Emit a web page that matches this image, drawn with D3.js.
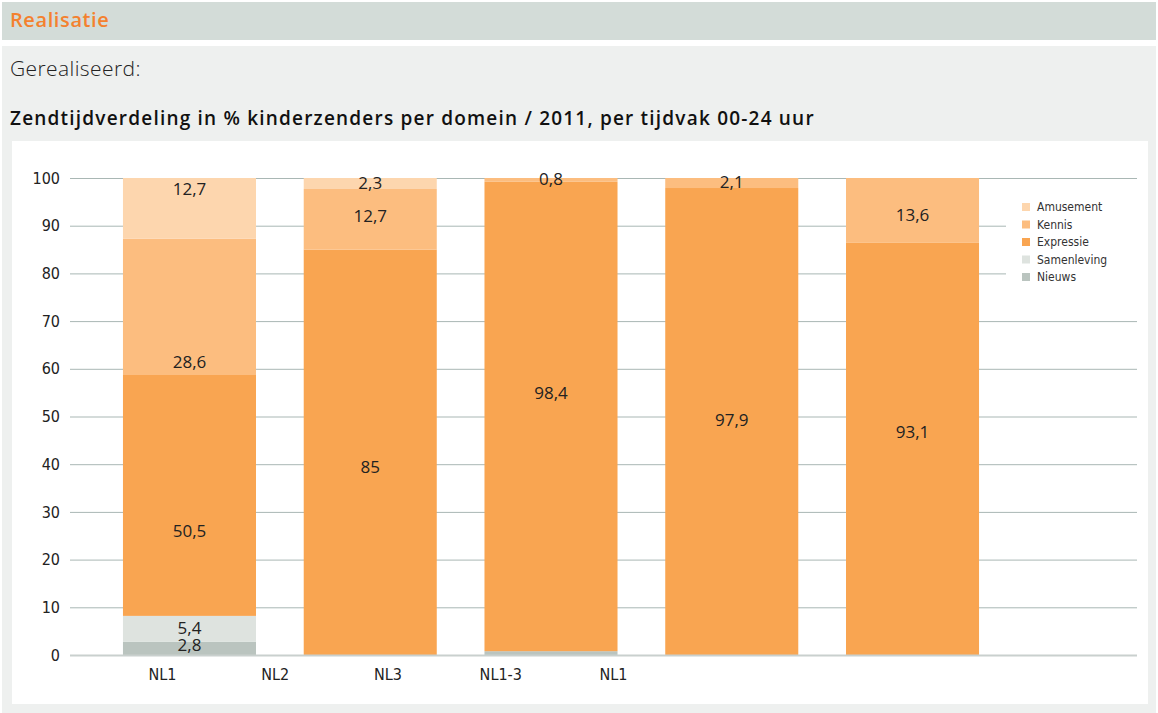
<!DOCTYPE html>
<html lang="nl">
<head>
<meta charset="UTF-8">
<title>Zendtijdverdeling kinderzenders</title>
<style>
  body { margin: 0; background: #fff; }
  svg { display: block; }
  .tick text { font-family: "DejaVu Sans Condensed", "Liberation Sans Narrow", sans-serif; font-size: 16px; fill: #222; }
  .head { font-family: "Open Sans", Lato, sans-serif; }
</style>
</head>
<body>
<div id="chart"></div>
<script src="https://d3js.org/d3.v7.min.js"></script>
<script>
// data
var barIds = ["b1", "b2", "b3", "b4", "b5"];
var xLabels = ["NL1", "NL2", "NL3", "NL1-3", "NL1 "];
var domains = ["Nieuws", "Samenleving", "Expressie", "Kennis", "Amusement"];
var legendOrder = ["Amusement", "Kennis", "Expressie", "Samenleving", "Nieuws"];

var nieuws      = [2.8, 0, 0.8, 0, 0];
var samenleving = [5.4, 0, 0, 0, 0];
var expressie   = [50.5, 85, 98.4, 97.9, 86.4];
var kennis      = [28.6, 12.7, 0.8, 2.1, 13.6];
var amusement   = [12.7, 2.3, 0, 0, 0];

// value labels as printed, with the value where each one sits
var labelBar  = [0, 0, 0, 0, 0, 1, 1, 1, 2, 2, 3, 3, 4, 4];
var labelText = ["12,7", "28,6", "50,5", "5,4", "2,8", "2,3", "12,7", "85", "0,8", "98,4", "2,1", "97,9", "13,6", "93,1"];
var labelAt   = [97.8, 61.4, 26, 5.7, 2.1, 98.9, 92.1, 39.4, 99.8, 54.9, 99.2, 49.3, 92.2, 46.7];

var yTicks = d3.range(0, 101, 10);

var colors = {
  "Amusement": "#fdd6ae",
  "Kennis": "#fcbd7f",
  "Expressie": "#f9a551",
  "Samenleving": "#dee3df",
  "Nieuws": "#bac4bf"
};

var rows = barIds.map(function(id, i) {
  return { id: id, Nieuws: nieuws[i], Samenleving: samenleving[i], Expressie: expressie[i], Kennis: kennis[i], Amusement: amusement[i] };
});

var W = 1158, H = 713;
var svg = d3.select("#chart").append("svg").attr("width", W).attr("height", H);

// page frame
svg.append("rect").attr("x", 2).attr("y", 2).attr("width", W - 4).attr("height", 38).attr("fill", "#d3dcd8");
svg.append("text").attr("class", "head").attr("x", 10).attr("y", 27)
  .style("font-weight", "600").style("font-size", "20px").style("letter-spacing", "0.6px")
  .attr("fill", "#f4812e").text("Realisatie");
svg.append("rect").attr("x", 2).attr("y", 46).attr("width", W - 4).attr("height", H - 46).attr("fill", "#eef0ef");
svg.append("text").attr("class", "head").attr("x", 10).attr("y", 76)
  .style("font-weight", "300").style("font-size", "21px").style("letter-spacing", "0.4px")
  .attr("fill", "#222").text("Gerealiseerd:");
svg.append("text").attr("class", "head").attr("x", 10).attr("y", 125)
  .style("font-weight", "600").style("font-size", "19px").style("letter-spacing", "1.2px")
  .attr("fill", "#111")
  .text("Zendtijdverdeling in % kinderzenders per domein / 2011, per tijdvak 00-24 uur");
svg.append("rect").attr("x", 12).attr("y", 141).attr("width", 1136).attr("height", 563).attr("fill", "#fff");

// plot
var pLeft = 70, pRight = 1137, pTop = 178, pBottom = 655;

var y = d3.scaleLinear().domain([0, 100]).range([pBottom, pTop]);
var x = d3.scaleBand().domain(barIds).range([pLeft, 1032]).paddingInner(0.264).paddingOuter(0.293);
var xl = d3.scalePoint().domain(xLabels).range([162, 613]);

var g = svg.append("g");

// grid
g.append("g").selectAll("line").data(yTicks.filter(function(d) { return d > 0; })).join("line")
  .attr("x1", pLeft).attr("x2", pRight)
  .attr("y1", function(d) { return y(d) + 0.5; }).attr("y2", function(d) { return y(d) + 0.5; })
  .attr("stroke", "#a9b7b4").attr("stroke-width", 1);

var stack = d3.stack().keys(domains)(rows);

g.append("g").selectAll("g").data(stack).join("g")
  .attr("fill", function(s) { return colors[s.key]; })
  .selectAll("rect").data(function(s) { return s; }).join("rect")
  .attr("x", function(d) { return x(d.data.id); })
  .attr("width", x.bandwidth())
  .attr("y", function(d) { return y(d[1]); })
  .attr("height", function(d) { return y(d[0]) - y(d[1]); });

// baseline
g.append("line").attr("x1", pLeft).attr("x2", pRight)
  .attr("y1", y(0) + 0.5).attr("y2", y(0) + 0.5)
  .attr("stroke", "#c9d0ce").attr("stroke-width", 2);

// y axis
var yAxis = g.append("g").attr("transform", "translate(" + (pLeft - 4) + ",0)")
  .call(d3.axisLeft(y).tickValues(yTicks).tickSize(0).tickPadding(6));
yAxis.select(".domain").remove();

// x axis labels
var xAxis = g.append("g").attr("transform", "translate(0," + (pBottom + 10) + ")")
  .call(d3.axisBottom(xl).tickSize(0).tickPadding(4));
xAxis.select(".domain").remove();

// value labels
g.append("g").selectAll("text").data(labelText).join("text")
  .attr("x", function(d, i) { return x(barIds[labelBar[i]]) + x.bandwidth() / 2; })
  .attr("y", function(d, i) { return y(labelAt[i]); })
  .attr("dy", "0.36em")
  .attr("text-anchor", "middle")
  .style("font-family", "'Open Sans', sans-serif").style("font-size", "17px")
  .attr("fill", "#222")
  .text(function(d) { return d; });

// legend
var legend = svg.append("g").attr("transform", "translate(1022,207)");
legend.append("rect").attr("x", -16).attr("y", -12).attr("width", 134).attr("height", 90).attr("fill", "#fff");
var li = legend.selectAll("g").data(legendOrder).join("g")
  .attr("transform", function(d, i) { return "translate(0," + (i * 17.5) + ")"; });
li.append("rect").attr("x", 0).attr("y", -4).attr("width", 8).attr("height", 8)
  .attr("fill", function(d) { return colors[d]; });
li.append("text").attr("x", 15).attr("dy", "0.35em")
  .style("font-family", "'DejaVu Sans Condensed', sans-serif").style("font-size", "12px")
  .attr("fill", "#333").text(function(d) { return d; });
</script>
</body>
</html>
